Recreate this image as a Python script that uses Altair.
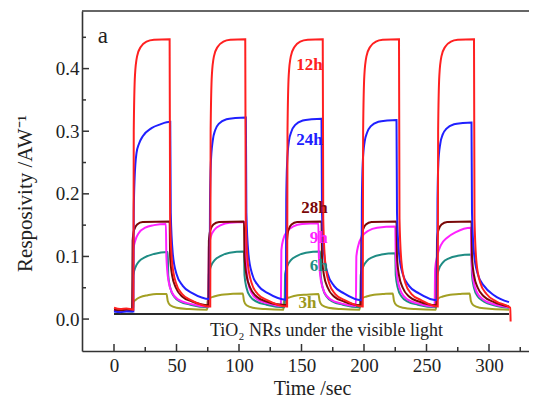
import altair as alt
import pandas as pd

FONT = "Liberation Serif"

# ---- data: (time /sec, responsivity /A W^-1) ----
S_12H = [(0, 0.018), (5, 0.016), (10, 0.017), (15.5, 0.015),
         (15.8, 0.30), (16.8, 0.39), (18.5, 0.42), (21.5, 0.435), (26, 0.443), (32, 0.446), (44.5, 0.447),
         (44.9, 0.16), (46.5, 0.09), (49.5, 0.058), (54.5, 0.040), (62, 0.030), (77, 0.020),
         (77.3, 0.30), (78.3, 0.39), (80, 0.42), (83, 0.435), (87.5, 0.443), (93, 0.446), (105, 0.447),
         (105.4, 0.16), (107, 0.09), (110, 0.058), (115, 0.040), (123, 0.030), (138.5, 0.020),
         (138.8, 0.30), (139.8, 0.39), (141.5, 0.42), (144.5, 0.435), (149, 0.443), (155, 0.446), (167, 0.447),
         (167.4, 0.16), (169, 0.09), (172, 0.058), (177, 0.040), (185, 0.030), (199, 0.020),
         (199.3, 0.30), (200.3, 0.39), (202, 0.42), (205, 0.435), (209.5, 0.443), (215, 0.446), (228, 0.447),
         (228.4, 0.16), (230, 0.09), (233, 0.058), (238, 0.040), (246, 0.030), (259, 0.020),
         (259.3, 0.30), (260.3, 0.39), (262, 0.42), (265, 0.435), (269.5, 0.443), (275, 0.446), (288, 0.447),
         (288.4, 0.16), (290, 0.09), (293, 0.058), (298, 0.040), (306, 0.028), (317, 0.018), (317.3, -0.004)]

S_24H = [(0, 0.012), (5, 0.011), (10, 0.012), (15.5, 0.012),
         (15.8, 0.17), (16.5, 0.225), (18, 0.265), (20, 0.28), (23, 0.292), (30, 0.305), (37, 0.311), (45, 0.315),
         (45.4, 0.17), (47, 0.105), (50, 0.072), (55, 0.053), (63, 0.041), (76.5, 0.032),
         (76.8, 0.19), (77.5, 0.25), (79, 0.285), (81, 0.302), (84, 0.312), (90, 0.319), (97, 0.321), (105.5, 0.322),
         (105.9, 0.17), (107.5, 0.105), (110.5, 0.072), (115.5, 0.053), (123.5, 0.041), (137.5, 0.031),
         (137.8, 0.19), (138.5, 0.25), (140, 0.285), (142, 0.30), (145, 0.31), (151, 0.317), (158, 0.319), (166, 0.32),
         (166.4, 0.17), (168, 0.105), (171, 0.072), (176, 0.053), (184, 0.041), (198, 0.030),
         (198.3, 0.19), (199, 0.25), (200.5, 0.283), (202.5, 0.298), (205.5, 0.308), (211.5, 0.315), (218.5, 0.317), (226, 0.318),
         (226.4, 0.17), (228, 0.105), (231, 0.072), (236, 0.053), (244, 0.041), (258.5, 0.030),
         (258.8, 0.19), (259.5, 0.25), (261, 0.28), (263, 0.295), (266, 0.304), (272, 0.311), (279, 0.313), (286, 0.314),
         (286.4, 0.17), (288, 0.105), (291, 0.072), (296, 0.053), (304, 0.038), (316, 0.027)]

S_28H = [(0, 0.015), (5, 0.014), (10, 0.015), (14.5, 0.014),
         (14.9, 0.125), (16, 0.142), (18.5, 0.151), (23, 0.155), (44.5, 0.156),
         (44.9, 0.10), (46.5, 0.07), (49.5, 0.05), (54.5, 0.036), (62.5, 0.028), (75.5, 0.022),
         (75.9, 0.125), (77, 0.142), (79.5, 0.151), (84, 0.155), (104, 0.156),
         (104.4, 0.10), (106, 0.07), (109, 0.05), (114, 0.036), (122, 0.028), (138, 0.022),
         (138.4, 0.125), (139.5, 0.142), (142, 0.151), (146.5, 0.155), (166, 0.156),
         (166.4, 0.10), (168, 0.07), (171, 0.05), (176, 0.036), (184, 0.028), (197.5, 0.022),
         (197.9, 0.125), (199, 0.142), (201.5, 0.151), (206, 0.155), (226, 0.156),
         (226.4, 0.10), (228, 0.07), (231, 0.05), (236, 0.036), (244, 0.028), (258, 0.022),
         (258.4, 0.125), (259.5, 0.142), (262, 0.151), (266.5, 0.155), (286, 0.156),
         (286.4, 0.10), (288, 0.07), (291, 0.05), (296, 0.036), (304, 0.027), (316, 0.020)]

S_9H = [(0, 0.014), (5, 0.013), (10, 0.014), (15, 0.013),
        (15.4, 0.11), (17, 0.125), (20, 0.138), (25, 0.146), (32, 0.150), (41.5, 0.152),
        (41.9, 0.10), (43.5, 0.062), (46.5, 0.042), (51.5, 0.031), (59.5, 0.025), (75.5, 0.020),
        (75.9, 0.115), (77.5, 0.132), (80.5, 0.143), (85.5, 0.150), (92.5, 0.154), (105, 0.155),
        (105.4, 0.10), (107, 0.062), (110, 0.042), (115, 0.031), (123, 0.025), (133.5, 0.021),
        (133.9, 0.11), (135.5, 0.128), (138.5, 0.140), (143.5, 0.148), (150.5, 0.152), (163.5, 0.153),
        (163.9, 0.10), (165.5, 0.062), (168.5, 0.042), (173.5, 0.031), (181.5, 0.025), (193.5, 0.021),
        (193.9, 0.10), (195.5, 0.118), (198.5, 0.132), (203.5, 0.141), (210.5, 0.146), (225, 0.148),
        (225.4, 0.10), (227, 0.062), (230, 0.042), (235, 0.031), (243, 0.025), (256.5, 0.020),
        (256.9, 0.08), (258.5, 0.10), (261.5, 0.118), (266.5, 0.130), (273.5, 0.139), (285.5, 0.146),
        (285.9, 0.10), (287.5, 0.062), (290.5, 0.042), (295.5, 0.031), (303.5, 0.024), (316, 0.019)]

S_6H = [(0, 0.013), (5, 0.012), (10, 0.013), (15, 0.012),
        (15.4, 0.070), (17, 0.082), (20, 0.092), (25, 0.099), (32, 0.104), (43, 0.107),
        (43.4, 0.070), (45, 0.050), (48, 0.036), (53, 0.028), (61, 0.023), (75.5, 0.019),
        (75.9, 0.072), (77.5, 0.084), (80.5, 0.094), (85.5, 0.101), (92.5, 0.106), (104, 0.108),
        (104.4, 0.070), (106, 0.050), (109, 0.036), (114, 0.028), (122, 0.023), (136.5, 0.019),
        (136.9, 0.072), (138.5, 0.084), (141.5, 0.094), (146.5, 0.101), (153.5, 0.106), (165, 0.108),
        (165.4, 0.070), (167, 0.050), (170, 0.036), (175, 0.028), (183, 0.023), (197, 0.019),
        (197.4, 0.070), (199, 0.082), (202, 0.092), (207, 0.099), (214, 0.103), (225, 0.105),
        (225.4, 0.070), (227, 0.050), (230, 0.036), (235, 0.028), (243, 0.023), (258, 0.019),
        (258.4, 0.068), (260, 0.080), (263, 0.090), (268, 0.097), (275, 0.101), (286, 0.103),
        (286.4, 0.070), (288, 0.050), (291, 0.036), (296, 0.028), (304, 0.022), (316, 0.018)]

S_3H = [(0, 0.015), (5, 0.015), (10, 0.015), (15.2, 0.015),
        (15.6, 0.027), (17.5, 0.031), (21, 0.035), (27, 0.038), (34, 0.040), (42, 0.040),
        (43, 0.029), (45, 0.022), (50, 0.018), (60, 0.016), (74.5, 0.015),
        (74.9, 0.029), (76.5, 0.033), (80, 0.036), (86, 0.039), (93, 0.040), (103, 0.041),
        (104, 0.029), (106, 0.022), (111, 0.018), (121, 0.016), (135.5, 0.015),
        (135.9, 0.028), (137.5, 0.032), (141, 0.035), (147, 0.038), (154, 0.039), (163.5, 0.040),
        (164.5, 0.029), (166.5, 0.022), (171.5, 0.018), (181.5, 0.016), (196.5, 0.015),
        (196.9, 0.029), (198.5, 0.033), (202, 0.036), (208, 0.039), (215, 0.040), (223, 0.041),
        (224, 0.029), (226, 0.022), (231, 0.018), (241, 0.016), (257.5, 0.015),
        (257.9, 0.029), (259.5, 0.033), (263, 0.036), (269, 0.039), (276, 0.040), (284.5, 0.041),
        (285.5, 0.029), (287.5, 0.022), (292.5, 0.018), (302.5, 0.016), (316, 0.015)]

S_DARK = [(0, 0.008), (100, 0.008), (200, 0.008), (316, 0.008)]

SERIES = [  # drawing order: bottom first
    ("dark", S_DARK, "#2a2a2a"),
    ("3h", S_3H, "#a3a024"),
    ("6h", S_6H, "#1f8c84"),
    ("9h", S_9H, "#ff22ff"),
    ("28h", S_28H, "#7a0808"),
    ("24h", S_24H, "#2020ff"),
    ("12h", S_12H, "#ff2020"),
]

LABELS = ["12h", "24h", "28h", "9h", "6h", "3h"]
LABEL_T = [167, 167, 171, 171, 171, 162]
LABEL_V = [0.405, 0.286, 0.178, 0.130, 0.084, 0.025]
LABEL_C = ["#ff2020", "#2020ff", "#7a0808", "#ff22ff", "#1f8c84", "#9c9820"]

X_MAJOR = [0, 50, 100, 150, 200, 250, 300]
X_MINOR = [25, 75, 125, 175, 225, 275, 325]
Y_MAJOR = [0.0, 0.1, 0.2, 0.3, 0.4]
Y_MINOR = [0.05, 0.15, 0.25, 0.35, 0.45]

X_DOMAIN = [-25.6, 332]
Y_DOMAIN = [-0.051, 0.492]
W, H = 447, 340

xs = alt.Scale(domain=X_DOMAIN, nice=False, zero=False)
ys = alt.Scale(domain=Y_DOMAIN, nice=False, zero=False)

x_axis = alt.Axis(values=X_MAJOR, ticks=False, tickSize=0, grid=False, labelFont=FONT,
                  labelFontSize=19, labelColor="#222", labelPadding=5, domainColor="#333",
                  domainWidth=1.6, title="Time /sec", titleFont=FONT, titleFontSize=20,
                  titleFontWeight="normal", titleColor="#222", titleX=230, titleY=27,
                  titleBaseline="top", titleAlign="center")
y_axis = alt.Axis(values=Y_MAJOR, format=".1f", ticks=False, tickSize=0, grid=False,
                  labelFont=FONT, labelFontSize=19, labelColor="#222", labelPadding=3,
                  domainColor="#333", domainWidth=1.6, title="Resposivity /AW\u207b\u00b9",
                  titleFont=FONT, titleFontSize=21, titleFontWeight="normal", titleColor="#222",
                  titleX=-57, titleY=182, titleAngle=270, titleAlign="center",
                  titleBaseline="middle")


def X(field="t"):
    return alt.X(f"{field}:Q", scale=xs, axis=x_axis)


def Y(field="v"):
    return alt.Y(f"{field}:Q", scale=ys, axis=y_axis)


layers = []
for name, pts, col in SERIES:
    df = pd.DataFrame(pts, columns=["t", "v"])
    df["i"] = range(len(df))
    layers.append(
        alt.Chart(df).mark_line(color=col, strokeWidth=2, interpolate="monotone", clip=True)
        .encode(x=X(), y=Y(), order="i:Q")
    )


# inward ticks
def xticks(vals, length):
    d = pd.DataFrame({"t": vals})
    return alt.Chart(d).mark_rule(color="#333", strokeWidth=1.5).encode(
        x=X(), y=alt.value(H), y2=alt.value(H - length))


def yticks(vals, length):
    d = pd.DataFrame({"v": vals})
    return alt.Chart(d).mark_rule(color="#333", strokeWidth=1.5).encode(
        y=Y(), x=alt.value(0), x2=alt.value(length))


layers += [xticks(X_MAJOR, 7), xticks(X_MINOR, 4), yticks(Y_MAJOR, 7), yticks(Y_MINOR, 4)]

# top frame line
layers.append(alt.Chart(pd.DataFrame({"a": [0]})).mark_rule(color="#333", strokeWidth=1.6).encode(
    x=alt.value(0), x2=alt.value(W), y=alt.value(0)))

lab = pd.DataFrame({"t": LABEL_T, "v": LABEL_V, "s": LABELS, "c": LABEL_C})
layers.append(alt.Chart(lab).mark_text(font=FONT, fontSize=17, fontWeight="bold", align="right",
                                        baseline="middle").encode(
    x=X(), y=Y(), text="s:N", color=alt.Color("c:N", scale=None)))

note = pd.DataFrame({"t": [170], "v": [-0.019], "s": ["TiO\u2082 NRs under the visible light"]})
layers.append(alt.Chart(note).mark_text(font=FONT, fontSize=18, color="#222", align="center",
                                         baseline="middle").encode(x=X(), y=Y(), text="s:N"))

panel = pd.DataFrame({"t": [-9], "v": [0.452], "s": ["a"]})
layers.append(alt.Chart(panel).mark_text(font=FONT, fontSize=23, color="#222", align="center",
                                          baseline="middle").encode(x=X(), y=Y(), text="s:N"))

chart = alt.layer(*layers).properties(
    width=W, height=H,
    autosize=alt.AutoSizeParams(type="none"),
    padding={"left": 74, "top": 3, "right": 0, "bottom": 47},
    background="white",
).configure_view(stroke=None)

chart.save("out.html", embed_options={"renderer": "svg", "actions": False})
